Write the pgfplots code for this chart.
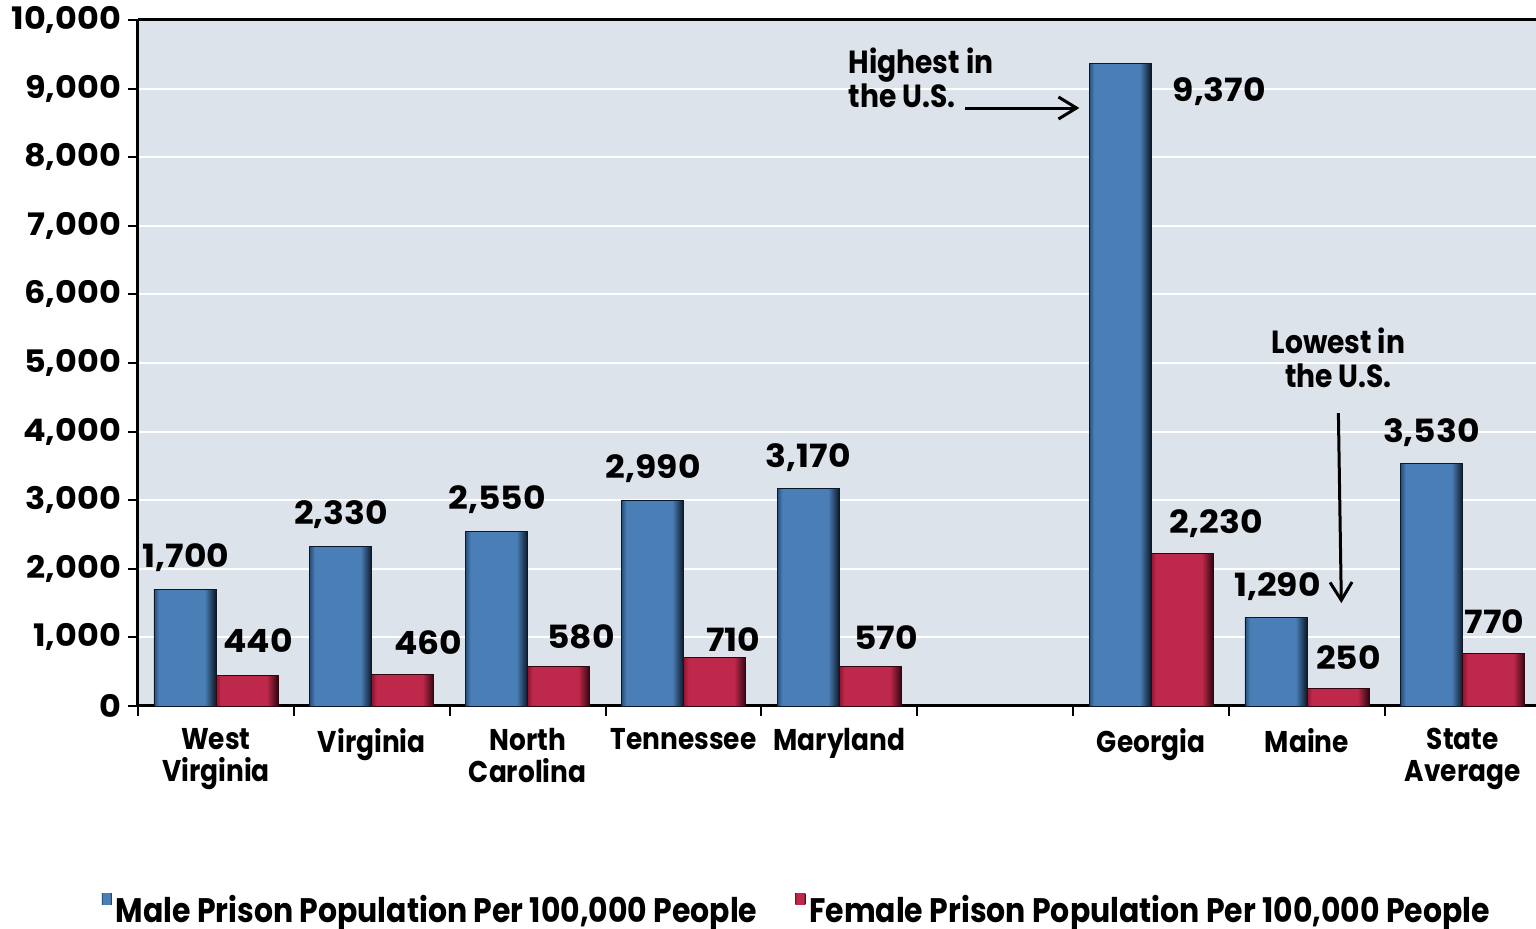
\documentclass[border=0pt]{standalone}
\usepackage{pgfplots}
\pgfplotsset{compat=1.18}
\usepackage{fontspec}
\setmainfont{Poppins}
\newfontfamily\tf{Poppins}[FakeStretch=0.88]
\newfontfamily\nf{Poppins}[FakeStretch=1.08]
\usetikzlibrary{arrows.meta}
\definecolor{bg}{RGB}{221,227,234}
\definecolor{lblue}{RGB}{40,78,122}
\definecolor{mblue}{RGB}{74,126,182}
\definecolor{dblue}{RGB}{12,24,40}
\definecolor{lred}{RGB}{140,22,50}
\definecolor{mred}{RGB}{190,40,74}
\definecolor{dred}{RGB}{50,6,16}
\pgfdeclarehorizontalshading{barblue}{100bp}{color(0bp)=(lblue); color(25bp)=(lblue); color(29bp)=(mblue); color(66bp)=(mblue); color(75bp)=(dblue); color(100bp)=(dblue)}
\pgfdeclarehorizontalshading{barred}{100bp}{color(0bp)=(lred); color(25bp)=(lred); color(29bp)=(mred); color(66bp)=(mred); color(75bp)=(dred); color(100bp)=(dred)}
\newcommand\lf{\nf\bfseries\fontsize{16}{18}\selectfont}
\newcommand\af{\tf\bfseries\fontsize{16}{17}\selectfont}
\pgfplotsset{
  mbar/.style={ybar, bar width=31pt, bar shift=-15.5pt, draw=dblue, line width=0.4pt,
    shade, shading=barblue, forget plot},
  fbar/.style={ybar, bar width=31pt, bar shift=15.5pt, draw=dred, line width=0.4pt,
    shade, shading=barred, forget plot},
}
\begin{document}
\begin{tikzpicture}
\useasboundingbox (-69pt,-111.5pt) rectangle (699pt,353pt);
\begin{axis}[
  at={(0,0)}, anchor=south west,
  scale only axis, width=699pt, height=343pt,
  xmin=-0.5, xmax=8.47, ymin=0, ymax=10000,
  axis background/.style={fill=bg},
  axis x line*=bottom, axis y line*=left,
  axis line style={line width=1.5pt, -, black},
  xtick={0,1,2,3,4,6,7,8},
  xticklabels={{West\\Virginia},{Virginia\\\mbox{}},{North\\Carolina},{Tennessee\\\mbox{}},{Maryland\\\mbox{}},{Georgia\\\mbox{}},{Maine\\\mbox{}},{State\\Average}},
  xticklabel style={align=center, anchor=north, yshift=-2.5pt, font=\tf\bfseries\fontsize{15}{16}\selectfont},
  major x tick style={draw=none},
  minor xtick={-0.5,0.5,...,8.5},
  minor x tick style={draw=black, line width=1pt},
  minor tick length=5pt,
  ytick={0,1000,...,10000},
  scaled y ticks=false,
  major tick length=5pt,
  y tick style={draw=black, line width=1pt},
  tick align=outside,
  yticklabel style={font=\nf\bfseries\fontsize{15.5}{18}\selectfont},
  /pgf/number format/assume math mode=true,
  /pgf/number format/1000 sep={,},
  ymajorgrids, major grid style={white, line width=1pt},
  legend style={at={(0.472,-0.298)}, anchor=center, draw=none, fill=none,
    legend columns=2, font=\tf\bfseries\fontsize{17}{18}\selectfont,
    /tikz/every even column/.append style={column sep=17pt}},
  legend image code/.code={\fill[#1,draw=none] (0pt,3pt) rectangle (5pt,8.5pt);},
  clip=false,
]
\addlegendimage{shade, shading=barblue}
\addlegendentry{Male Prison Population Per 100,000 People}
\addlegendimage{shade, shading=barred}
\addlegendentry{Female Prison Population Per 100,000 People}
% male
\addplot[mbar] coordinates {(0,1700)};
\addplot[mbar] coordinates {(1,2330)};
\addplot[mbar] coordinates {(2,2550)};
\addplot[mbar] coordinates {(3,2990)};
\addplot[mbar] coordinates {(4,3170)};
\addplot[mbar] coordinates {(6,9370)};
\addplot[mbar] coordinates {(7,1290)};
\addplot[mbar] coordinates {(8,3530)};
% female
\addplot[fbar] coordinates {(0,440)};
\addplot[fbar] coordinates {(1,460)};
\addplot[fbar] coordinates {(2,580)};
\addplot[fbar] coordinates {(3,710)};
\addplot[fbar] coordinates {(4,570)};
\addplot[fbar] coordinates {(6,2230)};
\addplot[fbar] coordinates {(7,250)};
\addplot[fbar] coordinates {(8,770)};
\draw[line width=1.5pt] (rel axis cs:0,1) -- (rel axis cs:1,1);
\node[font=\lf] at (axis cs:-0.192,2157) {1,700};
\node[font=\lf] at (axis cs:0.270,947) {440};
\node[font=\lf] at (axis cs:0.803,2784) {2,330};
\node[font=\lf] at (axis cs:1.361,918) {460};
\node[font=\lf] at (axis cs:1.804,3003) {2,550};
\node[font=\lf] at (axis cs:2.343,1006) {580};
\node[font=\lf] at (axis cs:2.806,3455) {2,990};
\node[font=\lf] at (axis cs:3.319,962) {710};
\node[font=\lf] at (axis cs:3.800,3615) {3,170};
\node[font=\lf] at (axis cs:4.301,991) {570};
\node[font=\lf] at (axis cs:6.438,8950) {9,370};
\node[font=\lf] at (axis cs:6.419,2653) {2,230};
\node[font=\lf] at (axis cs:6.811,1735) {1,290};
\node[font=\lf] at (axis cs:7.266,700) {250};
\node[font=\lf] at (axis cs:7.799,3980) {3,530};
\node[font=\lf] at (axis cs:8.203,1224) {770};
\node[font=\af, align=left, anchor=north west, inner sep=0pt] at (axis cs:4.057,9600) {Highest in\\the U.S.};
\draw[line width=1.5pt, -{Straight Barb[length=9pt,width=11pt]}] (axis cs:4.808,8717) -- (axis cs:5.54,8717);
\node[font=\af, align=center] at (axis cs:7.202,5073) {Lowest in\\the U.S.};
\draw[line width=1.5pt, -{Straight Barb[length=9pt,width=11pt]}] (axis cs:7.202,4270) -- (axis cs:7.221,1500);
\end{axis}
\end{tikzpicture}
\end{document}
